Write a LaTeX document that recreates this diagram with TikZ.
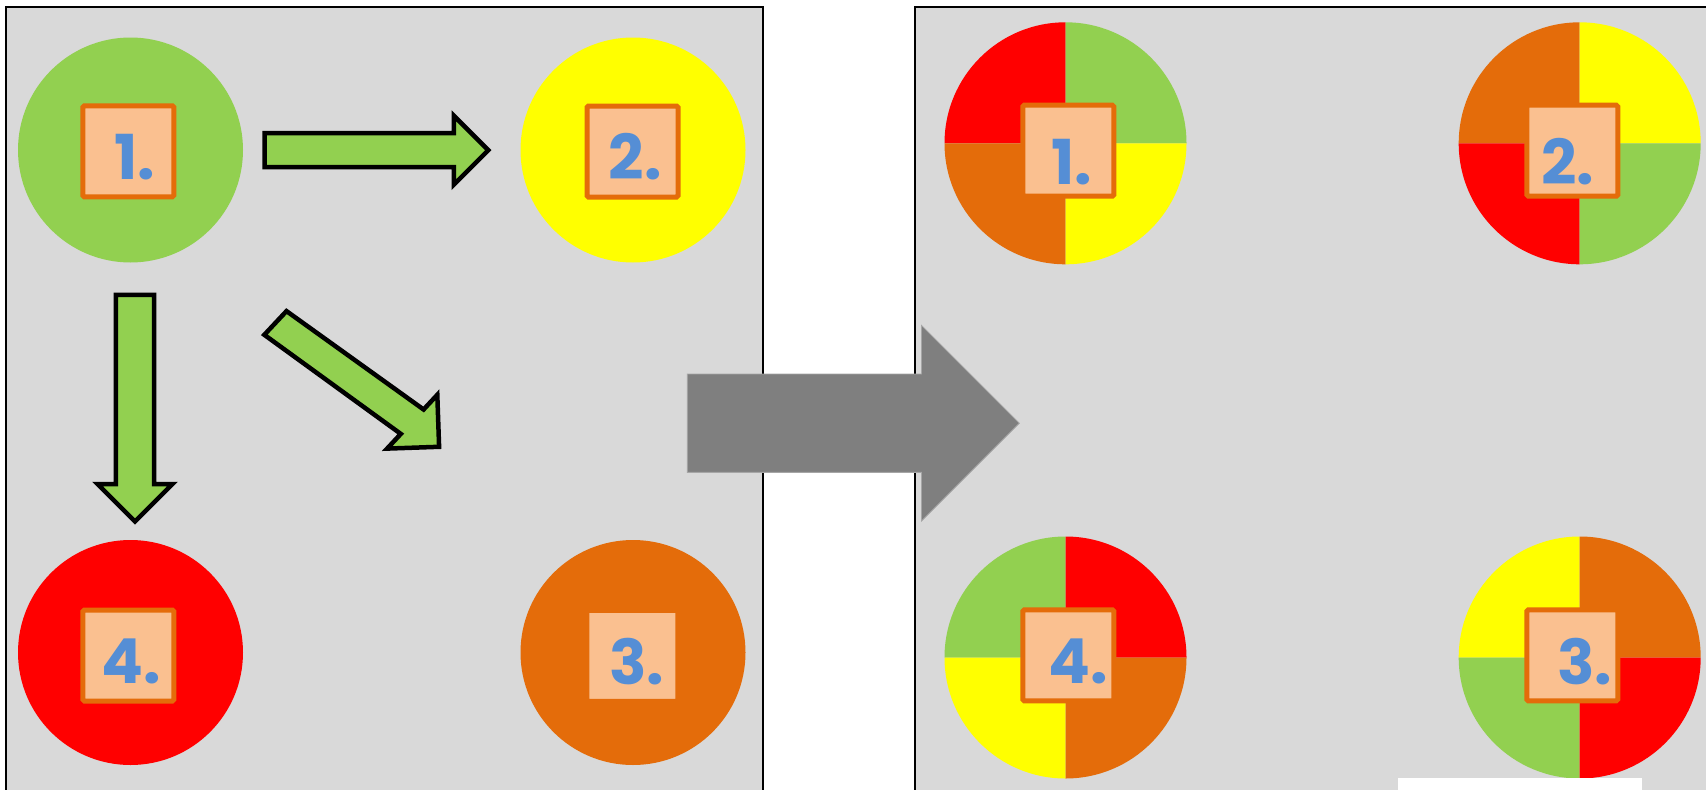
\documentclass[tikz,border=0pt]{standalone}
\usepackage{fontspec}
\newfontfamily\numfont{Poppins}

\definecolor{panelgray}{HTML}{D9D9D9}
\definecolor{leafgreen}{HTML}{92D050}
\definecolor{sunyellow}{HTML}{FFFF00}
\definecolor{firered}{HTML}{FF0000}
\definecolor{burntorange}{HTML}{E46C0A}
\definecolor{peach}{HTML}{FAC090}
\definecolor{stepblue}{HTML}{558ED5}
\definecolor{arrowgray}{HTML}{7F7F7F}
\definecolor{arrowedge}{HTML}{A6A6A6}

% block arrow: style, tail point, direction, length, half body width, half head width
% (the head is a right-angled tip, so its length equals its half width)
\newcommand\blockarrow[6]{%
  \begin{scope}[shift={(#2)}, rotate=#3]
    \path[#1] (0,-#5) -- (#4-#6,-#5) -- (#4-#6,-#6) -- (#4,0)
      -- (#4-#6,#6) -- (#4-#6,#5) -- (0,#5) -- cycle;
  \end{scope}}

% four-coloured disc: centre, top-left, top-right, bottom-left, bottom-right
\newcommand\quaddisc[5]{%
  \fill[#2] (#1) -- +(-121,0) arc[start angle=180, end angle=270, radius=121] -- cycle;
  \fill[#3] (#1) -- +(0,-121) arc[start angle=270, end angle=360, radius=121] -- cycle;
  \fill[#4] (#1) -- +(0,121)  arc[start angle=90,  end angle=180, radius=121] -- cycle;
  \fill[#5] (#1) -- +(121,0)  arc[start angle=0,   end angle=90,  radius=121] -- cycle;}

\begin{document}
\begin{tikzpicture}[x=1pt, y=-1pt,
  frame/.style={draw=black, line width=2pt},
  disc/.style={circle, minimum size=225pt, inner sep=0pt},
  tag/.style={rectangle, draw=burntorange, fill=peach, line width=5pt,
    minimum size=91pt, inner sep=0pt, rounded corners=1.5pt},
  num/.style={inner sep=0pt, text=stepblue,
    font=\numfont\bfseries\fontsize{62}{62}\selectfont},
  flow/.style={fill=leafgreen, draw=black, line width=4.5pt, miter limit=10},
  bigflow/.style={fill=arrowgray, draw=arrowedge, line width=0.8pt},
]
\useasboundingbox (0,0) rectangle (1706,790);
\fill[white] (0,0) rectangle (1706,790);

% panels
\fill[panelgray] (6,7) rectangle (763,790);
\draw[frame] (6,790) -- (6,7) -- (763,7) -- (763,790);
\fill[panelgray] (915,7) rectangle (1706,790);
\draw[frame] (915,790) -- (915,7) -- (1706,7);

% left panel: four single-colour discs
\node[disc, fill=leafgreen]   (d1) at (130.5,150) {};
\node[disc, fill=sunyellow]   (d2) at (633,150) {};
\node[disc, fill=burntorange] (d3) at (633,652.5) {};
\node[disc, fill=firered]     (d4) at (130.5,652.5) {};

\node[tag] (t1) at (128.3,151.3) {};
\node[tag] (t2) at (632.5,151.5) {};
\node[tag] (t3) at (632.3,655.8) {};
\node[tag] (t4) at (128.3,655.5) {};

\node[num] (n1) at (135,157.4) {1.};
\node[num] (n2) at (635.3,156.8) {2.};
\node[num] (n3) at (636.7,661.7) {3.};
\node[num] (n4) at (130.8,661.3) {4.};

% green arrows between the discs
\coordinate (a12) at (264.5,150.2);
\coordinate (a14) at (135,294.8);
\blockarrow{flow}{a12}{0}{223.8}{17}{34.5}
\blockarrow{flow}{a14}{-90}{226.7}{19.2}{37.5}

% slanted arrow towards disc 3 (its body is sheared against its head)
\coordinate (s1) at (286.5,311.1);
\coordinate (s2) at (423.6,409.5);
\coordinate (s3) at (437.3,394.8);
\coordinate (s4) at (439.1,446.8);
\coordinate (s5) at (387.1,448.6);
\coordinate (s6) at (400.8,433.9);
\coordinate (s7) at (264.3,334.8);
\path[flow] (s1) -- (s2) -- (s3) -- (s4) -- (s5) -- (s6) -- (s7) -- cycle;

% right panel: four mixed discs
\coordinate (q1) at (1065.5,143.3);
\coordinate (q2) at (1579.7,143.3);
\coordinate (q3) at (1579.7,657.5);
\coordinate (q4) at (1065.5,657.5);
\quaddisc{q1}{firered}{leafgreen}{burntorange}{sunyellow}
\quaddisc{q2}{burntorange}{sunyellow}{firered}{leafgreen}
\quaddisc{q3}{sunyellow}{burntorange}{leafgreen}{firered}
\quaddisc{q4}{leafgreen}{firered}{sunyellow}{burntorange}

\node[tag] (r1) at (1068.3,150.7) {};
\node[tag] (r2) at (1572.3,150.7) {};
\node[tag] (r3) at (1572.3,655.3) {};
\node[tag] (r4) at (1068.3,655.3) {};

\node[num] (m1) at (1072,162.5) {1.};
\node[num] (m2) at (1567.7,161.8) {2.};
\node[num] (m3) at (1584.7,661.3) {3.};
\node[num] (m4) at (1078.3,661.3) {4.};

\fill[white] (1398,777.7) rectangle (1642,790);

% grey arrow linking the two panels
\coordinate (g0) at (687.3,423.2);
\blockarrow{bigflow}{g0}{0}{332}{49.15}{97.8}
\end{tikzpicture}
\end{document}
